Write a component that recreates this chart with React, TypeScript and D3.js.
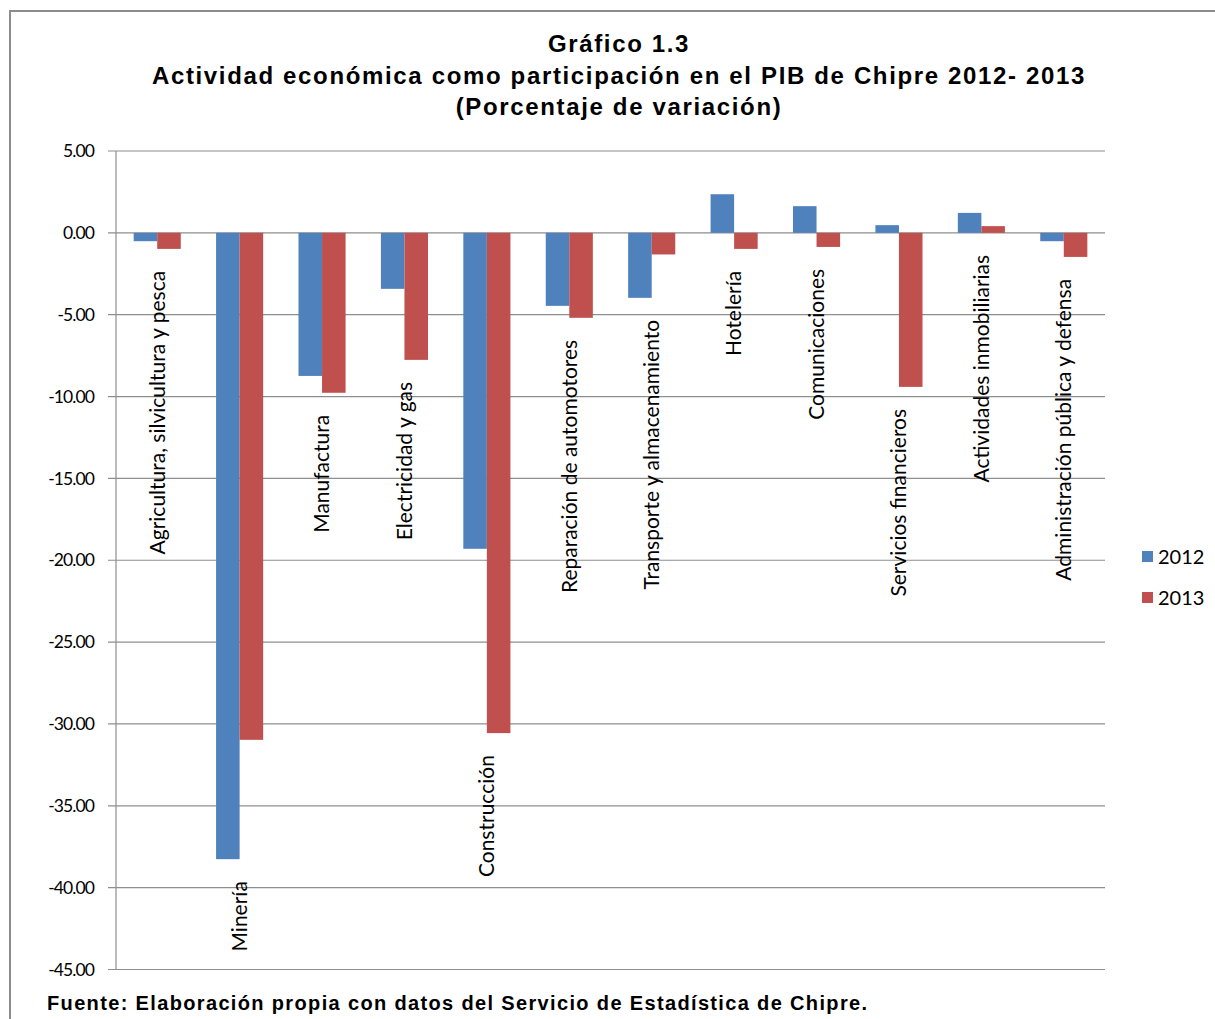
import React from "react";
import * as d3 from "d3";

const categories = [
  "Agricultura, silvicultura y pesca",
  "Minería",
  "Manufactura",
  "Electricidad y gas",
  "Construcción",
  "Reparación de automotores",
  "Transporte y almacenamiento",
  "Hotelería",
  "Comunicaciones",
  "Servicios financieros",
  "Actividades inmobiliarias",
  "Administración pública y defensa",
];
const values2012 = [-0.51, -38.26, -8.74, -3.42, -19.3, -4.46, -3.97, 2.36, 1.63, 0.47, 1.22, -0.51];
const values2013 = [-0.98, -30.97, -9.77, -7.76, -30.56, -5.19, -1.32, -0.98, -0.86, -9.41, 0.41, -1.47];
const seriesNames = ["2012", "2013"];
const yTicks = [5, 0, -5, -10, -15, -20, -25, -30, -35, -40, -45];
const titleLines = [
  "Gráfico 1.3",
  "Actividad económica como participación en el PIB de Chipre 2012- 2013",
  "(Porcentaje de variación)",
];
const sourceText = "Fuente: Elaboración propia con datos del Servicio de Estadística de Chipre.";

const W = 1215;
const H = 1019;
const colors = ["#4F81BD", "#C0504D"];
const labelFont = "Lato, 'Open Sans', sans-serif";
const titleFont = "'Liberation Sans', Arial, sans-serif";

export default function App() {
  const left = 116, right = 1105, top = 151, bottom = 969.5;
  const y = d3.scaleLinear().domain([5, -45]).range([top, bottom]);
  const x = d3.scaleBand<string>().domain(categories).range([left, right]).padding(0);
  const bw = x.bandwidth() / 3.5;
  const series = [values2012, values2013];

  return (
    <svg width={W} height={H} style={{ position: "absolute", left: 0, top: 0, background: "#fff" }}>
      <rect x={10} y={11} width={W + 20} height={H + 20} fill="#fff" stroke="#8c8c8c" strokeWidth={2} />
      {titleLines.map((t, i) => (
        <text key={i} x={619} y={52 + i * 31.5} textAnchor="middle" fontFamily={titleFont} fontWeight="bold" fontSize={24} letterSpacing={1.65} fill="#000">
          {t}
        </text>
      ))}
      {yTicks.map((t) => (
        <g key={t}>
          <line x1={108} x2={right} y1={y(t)} y2={y(t)} stroke="#8e8e8e" strokeWidth={1.2} />
          <text x={94} y={y(t)} dy="0.35em" textAnchor="end" fontFamily={labelFont} fontSize={17.5} letterSpacing={-0.9} fill="#000">
            {t.toFixed(2)}
          </text>
        </g>
      ))}
      <line x1={left} x2={left} y1={top} y2={bottom} stroke="#8e8e8e" strokeWidth={1.2} />
      {series.map((vals, si) =>
        vals.map((v, i) => {
          const cx = x(categories[i])! + x.bandwidth() / 2;
          const bx = cx - bw + si * bw;
          const y0 = y(Math.max(0, v));
          const y1 = y(Math.min(0, v));
          return <rect key={`${si}-${i}`} x={bx} y={y0} width={bw} height={y1 - y0} fill={colors[si]} />;
        })
      )}
      {categories.map((c, i) => {
        const cx = x(c)! + x.bandwidth() / 2;
        const low = y(Math.min(0, values2012[i], values2013[i]));
        const ty = low + 22;
        return (
          <text key={c} transform={`translate(${cx},${ty}) rotate(-90)`} dy="0.35em" textAnchor="end" fontFamily={labelFont} fontSize={21} fill="#000">
            {c}
          </text>
        );
      })}
      {seriesNames.map((s, i) => (
        <g key={s} transform={`translate(1142,${557 + i * 41})`}>
          <rect x={0} y={-6} width={11} height={11} fill={colors[i]} />
          <text x={16} y={0} dy="0.35em" fontFamily={labelFont} fontSize={20} fill="#000">
            {s}
          </text>
        </g>
      ))}
      <text x={47} y={1010} fontFamily={titleFont} fontWeight="bold" fontSize={20} letterSpacing={1.35} fill="#000">
        {sourceText}
      </text>
    </svg>
  );
}
